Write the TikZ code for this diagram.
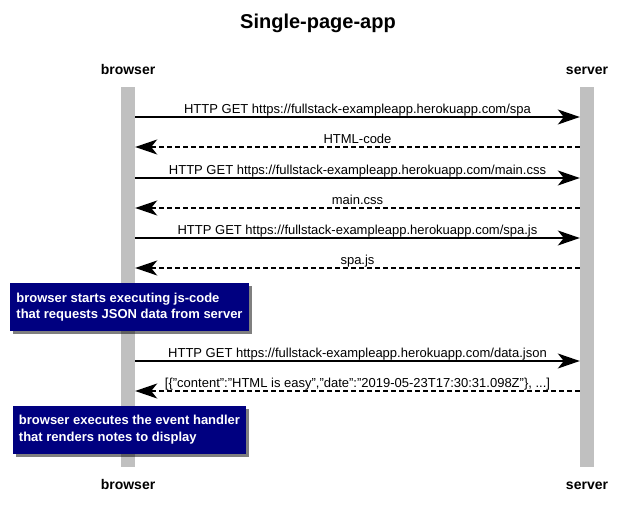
\documentclass[tikz,border=0pt]{standalone}
\usepackage{fontspec}
\setmainfont{Liberation Sans}
\usetikzlibrary{positioning,arrows.meta,shadows}

\definecolor{lifegray}{RGB}{192,192,192}
\definecolor{notenavy}{RGB}{0,0,128}

\begin{document}
\begin{tikzpicture}[x=1pt,y=-1pt,font=\fontsize{13}{16}\selectfont,
  lifebar/.style={fill=lifegray,minimum width=14pt,minimum height=380pt,inner sep=0pt},
  actor/.style={font=\fontsize{14}{16}\selectfont\bfseries,anchor=base,inner sep=0pt},
  msg/.style={line width=1.6pt,-{Stealth[length=22pt,width=15pt,inset=6pt]}},
  reply/.style={msg,dash pattern=on 5pt off 3pt},
  msglabel/.style={above=3pt,inner sep=0pt,text depth=0pt},
  note/.style={fill=notenavy,text=white,font=\fontsize{13}{16.5}\selectfont\bfseries,
    align=left,inner xsep=6pt,inner ysep=0pt,minimum height=48pt,
    drop shadow={shadow xshift=3pt,shadow yshift=-3pt,fill=black,opacity=0.5}}]

  \useasboundingbox (0,0) rectangle (634,524);

  % ---------- title and lifelines ----------
  \node[font=\fontsize{20}{24}\selectfont\bfseries,anchor=base] (title) at (318,28.3) {Single-page-app};

  \node[lifebar] (bbar) at (128,277) {};
  \node[lifebar] (sbar) at (587,277) {};

  \node[actor] (btop) at (128,75) {browser};
  \node[actor] (stop) at (587,75) {server};
  \node[actor] (bbot) at (128,489) {browser};
  \node[actor] (sbot) at (587,489) {server};

  % ---------- page, stylesheet and script ----------
  \foreach \y/\file/\answer [count=\i] in {117/spa/HTML-code,178/main.css/main.css,238/spa.js/spa.js} {
    \pgfmathsetmacro{\yr}{\y+30}
    \coordinate (b\i) at (bbar.east |- 0,\y);
    \coordinate (s\i) at (sbar.west |- 0,\y);
    \coordinate (br\i) at (bbar.east |- 0,\yr);
    \coordinate (sr\i) at (sbar.west |- 0,\yr);
    \draw[msg] (b\i) -- node[msglabel] {HTTP GET https://fullstack-exampleapp.herokuapp.com/\file} (s\i);
    \draw[reply] (sr\i) -- node[msglabel] {\answer} (br\i);
  }

  \node[note] (note1) at (129.5,307) {browser starts executing js-code\\that requests JSON data from server};

  % ---------- data ----------
  \coordinate (b4) at (bbar.east |- 0,361);
  \coordinate (s4) at (sbar.west |- 0,361);
  \coordinate (br4) at (bbar.east |- 0,391);
  \coordinate (sr4) at (sbar.west |- 0,391);
  \draw[msg] (b4) -- node[msglabel] {HTTP GET https://fullstack-exampleapp.herokuapp.com/data.json} (s4);
  \draw[reply] (sr4) -- node[msglabel] {[\{"content":"HTML is easy","date":"2019-05-23T17:30:31.098Z"\}, ...]} (br4);

  \node[note] (note2) at (129.5,429.5) {browser executes the event handler\\that renders notes to display};

\end{tikzpicture}
\end{document}
